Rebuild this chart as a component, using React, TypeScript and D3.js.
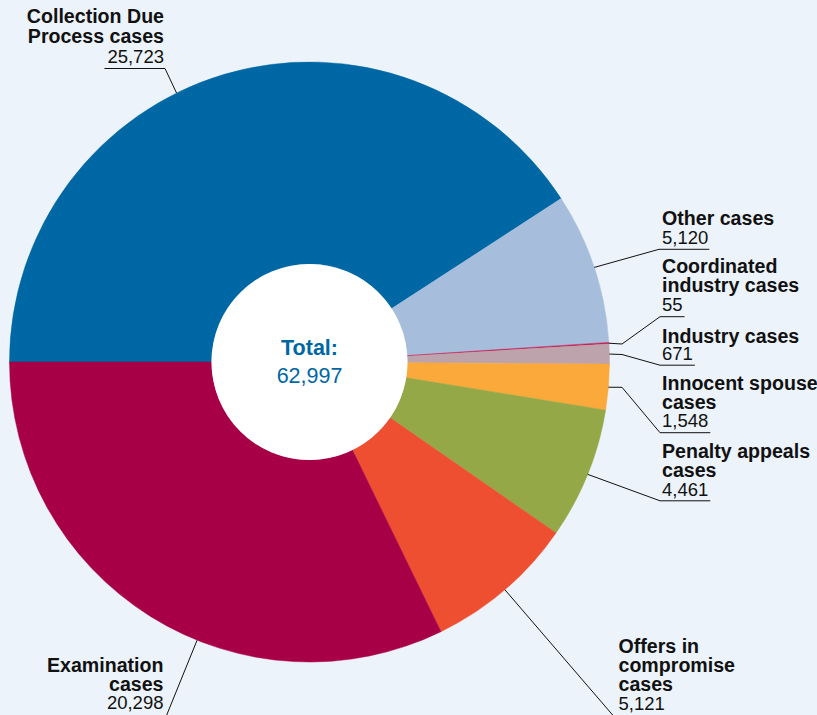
import React, { useMemo } from "react";
import * as d3 from "d3";

// ---- data ----
const categories = [
  "Collection Due Process cases",
  "Other cases",
  "Coordinated industry cases",
  "Industry cases",
  "Innocent spouse cases",
  "Penalty appeals cases",
  "Offers in compromise cases",
  "Examination cases",
];
const values = [25723, 5120, 55, 671, 1548, 4461, 5121, 20298];
const labelLines = [
  ["Collection Due", "Process cases"],
  ["Other cases"],
  ["Coordinated", "industry cases"],
  ["Industry cases"],
  ["Innocent spouse", "cases"],
  ["Penalty appeals", "cases"],
  ["Offers in", "compromise", "cases"],
  ["Examination", "cases"],
];
const colors = ["#0067A5", "#A6BDDC", "#C41E56", "#BDA3AB", "#FBA93A", "#95A847", "#EF4F31", "#A70046"];
const totalLabel = "Total:";

// ---- layout ----
const W = 817;
const H = 715;
const CX = 309.5;
const CY = 362;
const R = 300;
const R0 = 98;
const BG = "#ECF3FA";
const FONT = "'Liberation Sans', Arial, Helvetica, sans-serif";
const BOLD_SIZE = 19.6;
const VAL_SIZE = 18.5;

type Layout = {
  x: number;
  y: number;
  lh: number;
  anchor: "start" | "end";
  shift: number; // degrees
  via: [number, number][];
};
const layout: Layout[] = [
  { x: 164, y: 23.3, lh: 20, anchor: "end", shift: -9.8, via: [[165, 68.5]] },
  { x: 662, y: 225, lh: 18.5, anchor: "start", shift: 0, via: [[659, 249.3]] },
  { x: 662, y: 272.7, lh: 19, anchor: "start", shift: 0, via: [[622, 344], [660, 316.7]] },
  { x: 662, y: 343.3, lh: 17, anchor: "start", shift: 0, via: [[622, 354.5], [660, 365.2]] },
  { x: 662, y: 390, lh: 18.7, anchor: "start", shift: 0, via: [[622, 387.3], [660, 432.7]] },
  { x: 662, y: 458.3, lh: 18.6, anchor: "start", shift: 0, via: [[660, 500.8]] },
  { x: 618.5, y: 653.3, lh: 18.9, anchor: "start", shift: 0, via: [[613.5, 716]] },
  { x: 163.5, y: 671.7, lh: 18.8, anchor: "end", shift: -10, via: [[166.5, 715.5]] },
];

const fmt = d3.format(",");

function measure(s: string, size: number, weight: string) {
  const c = document.createElement("canvas").getContext("2d");
  if (!c) return s.length * size * 0.55;
  c.font = `${weight} ${size}px 'Liberation Sans', Arial, sans-serif`;
  return c.measureText(s).width;
}

export default function App() {
  const arcs = useMemo(
    () =>
      d3
        .pie<number>()
        .sort(null)
        .value((d) => d)
        .startAngle(-Math.PI / 2)
        .endAngle((3 * Math.PI) / 2)(values),
    []
  );
  const arcGen = d3.arc<d3.PieArcDatum<number>>().innerRadius(R0).outerRadius(R);
  const total = d3.sum(values);

  return (
    <div style={{ position: "fixed", left: 0, top: 0, width: W, height: H, background: BG }}>
      <svg width={W} height={H} style={{ display: "block", fontFamily: FONT }}>
        <rect width={W} height={H} fill={BG} />
        <g transform={`translate(${CX},${CY})`}>
          {arcs.map((a, i) => (
            <path key={categories[i]} d={arcGen(a) || ""} fill={colors[i]} stroke={colors[i]} strokeWidth={0.5} />
          ))}
          <circle r={R0} fill="#FFFFFF" />
          <text textAnchor="middle" y={-7} fill="#0067A5" fontSize={21.5} fontWeight="bold">
            {totalLabel}
          </text>
          <text textAnchor="middle" y={21.3} fill="#0067A5" fontSize={21.5}>
            {fmt(total)}
          </text>
        </g>
        {arcs.map((a, i) => {
          const L = layout[i];
          const ang = (a.startAngle + a.endAngle) / 2 + (L.shift * Math.PI) / 180;
          const sx = CX + R * Math.sin(ang);
          const sy = CY - R * Math.cos(ang);
          const pts: [number, number][] = [[sx, sy], ...L.via];
          const valStr = fmt(values[i]);
          const w = measure(valStr, VAL_SIZE, "normal") + 4;
          const end = L.via[L.via.length - 1];
          const ux2 = L.anchor === "start" ? end[0] + w : end[0] - w;
          const lines = labelLines[i];
          return (
            <g key={"lab" + i}>
              <path d={d3.line()(pts) || ""} fill="none" stroke="#111" strokeWidth={1} />
              <line x1={end[0]} y1={end[1]} x2={ux2} y2={end[1]} stroke="#111" strokeWidth={1} />
              <text x={L.x} y={L.y} textAnchor={L.anchor} fill="#111">
                {lines.map((s, j) => (
                  <tspan key={j} x={L.x} y={L.y + j * L.lh} fontWeight="bold" fontSize={BOLD_SIZE}>
                    {s}
                  </tspan>
                ))}
                <tspan x={L.x} y={L.y + lines.length * L.lh} fontSize={VAL_SIZE}>
                  {valStr}
                </tspan>
              </text>
            </g>
          );
        })}
      </svg>
    </div>
  );
}
